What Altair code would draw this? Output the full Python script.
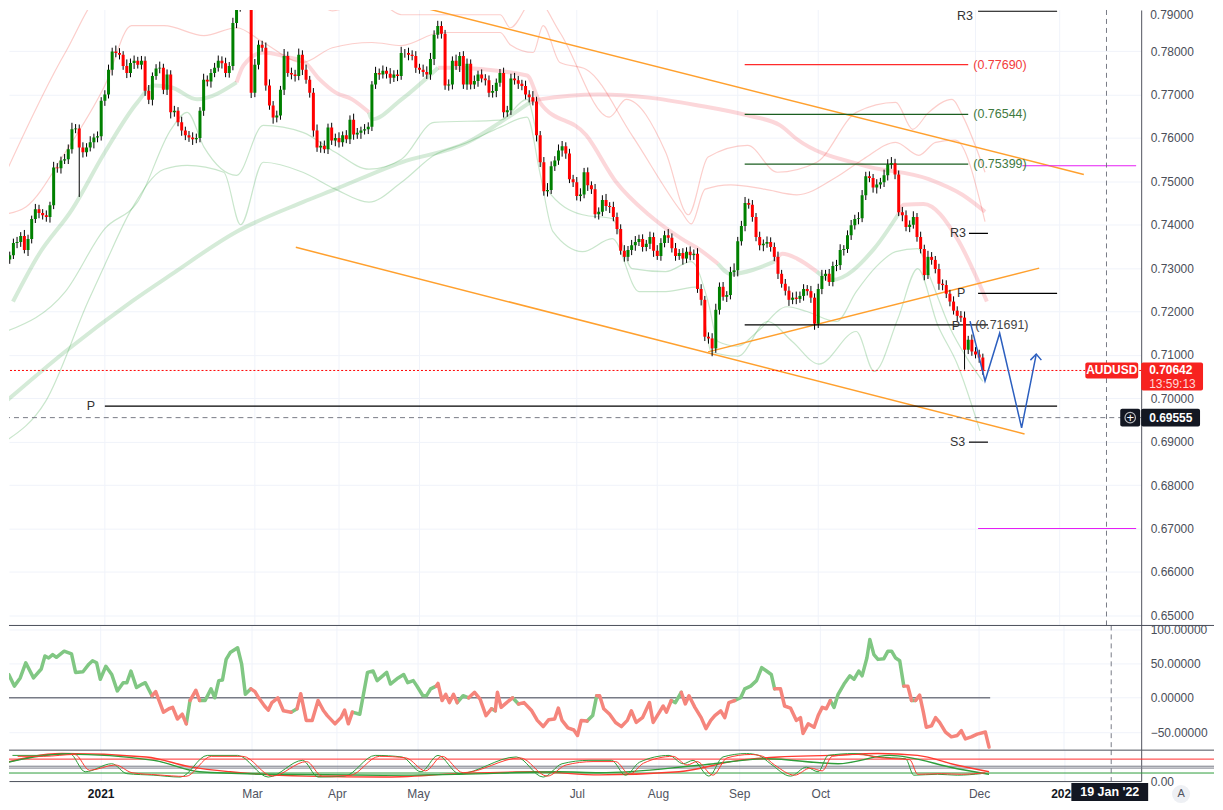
import altair as alt
import numpy as np
import pandas as pd

# ---------------- values ----------------
SYMBOL = "AUDUSD"
FIRST_BAR_DATE = "2020-11-26"
FIRST_OPEN = 0.7320

CLOSE = [
    0.7330, 0.7358, 0.7360, 0.7374, 0.7342, 0.7367, 0.7413, 0.7436, 0.7427, 0.7422,
    0.7418, 0.7445, 0.7532, 0.7530, 0.7548, 0.7551, 0.7574, 0.7620, 0.7622, 0.7578,
    0.7567, 0.7578, 0.7590, 0.7601, 0.7604, 0.7686, 0.7700, 0.7757, 0.7799, 0.7796,
    0.7792, 0.7766, 0.7750, 0.7773, 0.7778, 0.7769, 0.7778, 0.7709, 0.7688, 0.7743,
    0.7760, 0.7762, 0.7711, 0.7746, 0.7659, 0.7663, 0.7636, 0.7617, 0.7606, 0.7601,
    0.7597, 0.7600, 0.7663, 0.7734, 0.7730, 0.7750, 0.7762, 0.7778, 0.7772, 0.7750,
    0.7766, 0.7865, 0.7900, 0.7925, 0.7915, 0.7930, 0.7704, 0.7769, 0.7815, 0.7808,
    0.7721, 0.7675, 0.7647, 0.7652, 0.7711, 0.7789, 0.7750, 0.7746, 0.7743, 0.7792,
    0.7757, 0.7734, 0.7704, 0.7617, 0.7578, 0.7582, 0.7574, 0.7624, 0.7594, 0.7600,
    0.7590, 0.7606, 0.7597, 0.7642, 0.7608, 0.7612, 0.7617, 0.7620, 0.7626, 0.7723,
    0.7750, 0.7746, 0.7755, 0.7748, 0.7739, 0.7746, 0.7743, 0.7796, 0.7796, 0.7792,
    0.7789, 0.7762, 0.7757, 0.7752, 0.7746, 0.7782, 0.7838, 0.7858, 0.7840, 0.7721,
    0.7723, 0.7778, 0.7766, 0.7789, 0.7723, 0.7771, 0.7723, 0.7731, 0.7746, 0.7737,
    0.7733, 0.7704, 0.7708, 0.7727, 0.7750, 0.7659, 0.7664, 0.7737, 0.7733, 0.7725,
    0.7720, 0.7700, 0.7694, 0.7684, 0.7606, 0.7544, 0.7477, 0.7480, 0.7535, 0.7548,
    0.7571, 0.7581, 0.7564, 0.7505, 0.7498, 0.7466, 0.7470, 0.7521, 0.7491, 0.7482,
    0.7424, 0.7430, 0.7457, 0.7443, 0.7441, 0.7418, 0.7390, 0.7340, 0.7326, 0.7342,
    0.7353, 0.7360, 0.7367, 0.7349, 0.7356, 0.7372, 0.7340, 0.7328, 0.7358, 0.7376,
    0.7370, 0.7346, 0.7328, 0.7335, 0.7322, 0.7338, 0.7330, 0.7333, 0.7252, 0.7227,
    0.7142, 0.7138, 0.7115, 0.7204, 0.7257, 0.7234, 0.7238, 0.7291, 0.7295, 0.7362,
    0.7397, 0.7450, 0.7446, 0.7418, 0.7372, 0.7353, 0.7356, 0.7360, 0.7349, 0.7326,
    0.7287, 0.7264, 0.7248, 0.7227, 0.7232, 0.7229, 0.7236, 0.7252, 0.7247, 0.7232,
    0.7172, 0.7252, 0.7282, 0.7287, 0.7268, 0.7305, 0.7307, 0.7342, 0.7344, 0.7376,
    0.7399, 0.7413, 0.7415, 0.7468, 0.7512, 0.7508, 0.7486, 0.7493, 0.7498, 0.7514,
    0.7539, 0.7542, 0.7516, 0.7429, 0.7422, 0.7395, 0.7400, 0.7418, 0.7372, 0.7344,
    0.7284, 0.7326, 0.7319, 0.7298, 0.7264, 0.7261, 0.7241, 0.7223, 0.7202, 0.7190,
    0.7186, 0.7112, 0.7135, 0.7108, 0.7101, 0.7094, 0.70642,
]
UP_WICK_PIPS = [
    8, 10, 12, 9, 14, 10, 8, 12, 10, 9, 11, 8, 13, 10, 9, 12, 11, 15, 10, 9,
    12, 10, 14, 9, 11, 8, 10, 12, 9, 14, 11, 8, 15, 10, 12, 9, 11, 10, 13, 8,
    10, 14, 9, 12, 10, 11, 8, 13, 9, 10, 12, 10, 8, 14, 10, 9, 11, 12, 10, 13,
    9, 12, 20, 24, 22, 20, 12, 13, 10, 9, 12, 14, 10, 11, 9, 16, 10, 12, 11, 14,
    10, 12, 9, 11, 14, 10, 12, 9, 11, 10, 13, 9, 12, 10, 14, 11, 9, 12, 10, 8,
    14, 10, 12, 9, 13, 10, 11, 14, 9, 12, 10, 11, 9, 12, 13, 14, 10, 12, 11, 9,
    12, 10, 14, 9, 11, 12, 10, 13, 9, 12, 10, 11, 14, 10, 9, 12, 10, 11, 13, 10,
    9, 12, 10, 14, 11, 10, 12, 16, 11, 10, 14, 12, 9, 11, 10, 12, 14, 10, 11, 9,
    12, 10, 11, 14, 9, 12, 10, 11, 13, 9, 12, 14, 10, 11, 9, 12, 10, 13, 11, 10,
    14, 10, 12, 9, 11, 10, 12, 10, 13, 11, 9, 10, 12, 14, 10, 11, 9, 12, 16, 10,
    12, 14, 10, 11, 9, 12, 10, 13, 11, 10, 12, 9, 11, 10, 12, 14, 10, 11, 9, 12,
    10, 12, 14, 9, 11, 10, 12, 13, 9, 11, 12, 10, 14, 12, 10, 11, 9, 12, 10, 13,
    12, 14, 10, 9, 12, 11, 10, 13, 9, 12, 10, 14, 11, 9, 12, 10, 11, 9, 12, 10,
    11, 14, 9, 12, 10, 11, 9,
]
DOWN_WICK_PIPS = [
    10, 9, 12, 11, 8, 14, 10, 9, 12, 10, 11, 13, 9, 10, 12, 8, 11, 10, 9, 114,
    12, 10, 9, 14, 11, 10, 12, 9, 13, 10, 11, 9, 12, 10, 14, 9, 11, 12, 10, 13,
    9, 11, 10, 12, 14, 10, 9, 12, 11, 10, 13, 9, 10, 12, 11, 14, 10, 9, 12, 10,
    11, 10, 12, 9, 14, 20, 12, 10, 11, 9, 12, 10, 14, 11, 10, 12, 9, 11, 13, 10,
    12, 9, 11, 14, 10, 12, 9, 11, 10, 13, 12, 10, 9, 11, 12, 10, 14, 9, 11, 10,
    10, 12, 9, 11, 14, 10, 12, 9, 11, 13, 10, 12, 9, 11, 10, 12, 14, 9, 11, 10,
    12, 11, 9, 14, 10, 12, 11, 10, 13, 9, 12, 10, 11, 14, 9, 12, 10, 11, 10, 12,
    10, 11, 12, 9, 14, 11, 10, 12, 9, 11, 10, 14, 12, 9, 11, 10, 12, 9, 13, 11,
    9, 12, 10, 11, 14, 10, 12, 9, 11, 10, 12, 13, 9, 11, 10, 12, 14, 9, 11, 10,
    12, 10, 11, 9, 14, 10, 12, 11, 9, 13, 10, 12, 18, 10, 11, 9, 12, 10, 11, 14,
    10, 12, 9, 11, 10, 12, 14, 9, 11, 10, 12, 9, 11, 14, 10, 12, 9, 11, 10, 12,
    14, 10, 12, 11, 9, 10, 12, 11, 13, 9, 11, 10, 12, 9, 11, 10, 12, 14, 10, 11,
    12, 10, 11, 9, 14, 10, 12, 9, 11, 10, 12, 9, 11, 10, 14, 12, 10, 11, 9, 12,
    10, 46, 10, 10, 9, 12, 10,
]

MONTH_STARTS = ["2021-01-01", "2021-03-01", "2021-04-01", "2021-05-01", "2021-07-01",
                "2021-08-01", "2021-09-01", "2021-10-01", "2021-12-01", "2022-01-01"]
MONTH_LABELS = ["2021", "Mar", "Apr", "May", "Jul", "Aug", "Sep", "Oct", "Dec", "2022"]
PRICE_TICKS = [0.65, 0.66, 0.67, 0.68, 0.69, 0.70, 0.71, 0.72, 0.73, 0.74, 0.75, 0.76, 0.77, 0.78]
TOP_PRICE_TICK = 0.79

# (bar index from 1 Jan 2021, price, side g=green / r=red)
FAST_MA = [
    (-25.1, 0.7223, "g"), (-18.1, 0.7331, "g"), (-8.9, 0.7436, "g"), (0.0, 0.7567, "g"),
    (8.9, 0.7682, "g"), (13.5, 0.7721, "g"), (18.1, 0.7717, "g"), (25.2, 0.7689, "g"),
    (36.0, 0.7728, "g"), (37.9, 0.7767, "r"), (43.3, 0.7797, "r"), (50.6, 0.7785, "r"),
    (54.1, 0.7778, "r"), (58.7, 0.7735, "r"), (63.0, 0.7705, "r"), (67.6, 0.7689, "r"),
    (72.2, 0.7659, "r"), (73.0, 0.7643, "g"), (81.1, 0.7689, "g"), (91.1, 0.7762, "g"),
    (94.6, 0.7762, "r"), (115.4, 0.7744, "r"), (118.9, 0.7682, "r"), (131.6, 0.7606, "r"),
    (139.8, 0.7498, "r"), (148.7, 0.7423, "r"), (157.6, 0.7368, "r"), (162.2, 0.7345, "r"),
    (167.6, 0.7310, "r"), (171.1, 0.7287, "g"), (183.0, 0.7315, "g"), (185.2, 0.7333, "r"),
    (189.2, 0.7322, "r"), (194.6, 0.7292, "r"), (198.7, 0.7273, "g"), (210.3, 0.7345, "g"),
    (216.8, 0.7423, "g"), (218.4, 0.7446, "r"), (223.8, 0.7448, "r"), (233.0, 0.7368, "r"),
    (238.4, 0.7276, "r"), (241.1, 0.7223, "r"),
]
SLOW_MA = [
    (-27.0, 0.6993, "g"), (-10.8, 0.7108, "g"), (7.3, 0.7223, "g"), (18.1, 0.7285, "g"),
    (36.0, 0.7384, "g"), (54.1, 0.7452, "g"), (63.0, 0.7482, "g"), (81.1, 0.7544, "g"),
    (99.2, 0.7590, "g"), (108.1, 0.7636, "g"), (116.2, 0.7682, "g"), (118.9, 0.7689, "r"),
    (135.2, 0.7700, "r"), (148.7, 0.7693, "r"), (162.2, 0.7675, "r"), (175.7, 0.7652, "r"),
    (184.6, 0.7629, "r"), (189.2, 0.7597, "r"), (207.3, 0.7537, "r"), (225.2, 0.7505, "r"),
    (234.4, 0.7469, "r"), (240.6, 0.7430, "r"),
]
BAND_UPPER_OUTER = [
    (-27, 0.7521), (-10.8, 0.7797), (0.0, 0.7934), (54.1, 0.7934), (62.2, 0.7893), (73.0, 0.7923),
    (81.1, 0.7884), (108.1, 0.7884), (110.8, 0.7854), (117.6, 0.7923), (124.4, 0.7843),
    (137.9, 0.7648), (142.5, 0.7689), (153.3, 0.7567), (159.5, 0.7423), (164.9, 0.7556),
    (175.7, 0.7583), (183.8, 0.7521), (194.6, 0.7544), (205.4, 0.7659), (216.2, 0.7682),
    (220.8, 0.7620), (225.2, 0.7659), (231.6, 0.7689), (234.4, 0.7652), (240.6, 0.7521),
]
BAND_UPPER_INNER = [
    (-27, 0.7425), (-21.6, 0.7441), (-10.8, 0.7567), (0.0, 0.7721), (7.3, 0.7859), (16.2, 0.7859),
    (27.1, 0.7836), (36.0, 0.7854), (43.3, 0.7820), (54.1, 0.7774), (62.2, 0.7808), (73.0, 0.7820),
    (81.1, 0.7813), (91.9, 0.7843), (108.1, 0.7843), (110.8, 0.7815), (117.1, 0.7797),
    (119.8, 0.7859), (124.4, 0.7774), (131.6, 0.7758), (144.1, 0.7606), (157.6, 0.7430),
    (160.3, 0.7402), (164.1, 0.7482), (171.1, 0.7492), (180.3, 0.7482), (189.2, 0.7469),
    (200.0, 0.7510), (207.3, 0.7551), (216.2, 0.7590), (222.5, 0.7560), (227.1, 0.7590),
    (232.5, 0.7595), (240.6, 0.7407),
]
BAND_LOWER_INNER = [
    (-27, 0.7154), (-10.8, 0.7246), (0.0, 0.7391), (8.9, 0.7452), (18.1, 0.7620), (22.5, 0.7659),
    (27.1, 0.7579), (36.0, 0.7514), (43.3, 0.7629), (54.1, 0.7613), (63.0, 0.7567), (72.2, 0.7528),
    (81.1, 0.7551), (90.0, 0.7636), (108.1, 0.7641), (115.4, 0.7689), (118.1, 0.7606),
    (120.8, 0.7482), (130.6, 0.7423), (138.7, 0.7414), (144.1, 0.7299), (153.3, 0.7292),
    (160.3, 0.7315), (164.9, 0.7223), (167.6, 0.7131), (173.0, 0.7120), (178.4, 0.7154),
    (186.5, 0.7211), (191.9, 0.7200), (200.0, 0.7177), (205.4, 0.7246), (210.8, 0.7303),
    (216.2, 0.7338), (222.2, 0.7345), (225.7, 0.7276), (231.1, 0.7161), (235.7, 0.7092),
    (240.0, 0.7039),
]
BAND_LOWER_OUTER = [
    (-27, 0.6902), (-16.2, 0.6993), (-4.6, 0.7223), (0.0, 0.7308), (7.3, 0.7436), (16.2, 0.7528),
    (22.5, 0.7537), (32.5, 0.7521), (37.1, 0.7400), (43.3, 0.7544), (54.1, 0.7521), (63.0, 0.7482),
    (72.2, 0.7452), (81.1, 0.7498), (90.0, 0.7560), (99.2, 0.7590), (108.1, 0.7625),
    (115.4, 0.7648), (118.9, 0.7521), (122.5, 0.7384), (130.6, 0.7338), (138.7, 0.7368),
    (146.0, 0.7246), (153.3, 0.7246), (162.2, 0.7257), (165.7, 0.7108), (173.0, 0.7097),
    (181.1, 0.7177), (187.9, 0.7131), (195.2, 0.7079), (205.4, 0.7154), (210.3, 0.7062),
    (216.8, 0.7184), (222.2, 0.7299), (227.6, 0.7170), (233.0, 0.7079), (239.2, 0.6925),
]
# orange channel lines: (start idx, start price, end idx, end price)
TRENDLINES = [
    (81.1, 0.7913, 267.6, 0.7516),
    (52.2, 0.7348, 251.4, 0.6918),
    (164.9, 0.7107, 255.4, 0.7300),
]
PROJECTION = [(236.5, 0.7178), (240.6, 0.7040), (244.6, 0.7150), (250.6, 0.6932), (254.6, 0.7102)]
ARROW_HEAD = [(253.0, 0.7088), (254.6, 0.7102), (256.0, 0.7088)]
# horizontal levels: (price, from idx, to idx, kind)
LEVELS = [
    (0.7892, 238.7, 260.3, "pivot"),
    (0.77690, 174.9, 236.0, "fib_red"),
    (0.76544, 174.9, 236.0, "fib_green"),
    (0.75399, 174.9, 236.0, "fib_green"),
    (0.7536, 250.8, 281.9, "magenta"),
    (0.6700, 238.7, 281.9, "magenta"),
    (0.7380, 236.2, 241.4, "pivot"),
    (0.7242, 238.7, 260.3, "pivot"),
    (0.71691, 174.9, 241.4, "pivot"),
    (0.6982, 0.0, 260.3, "pivot"),
    (0.6899, 236.2, 241.4, "pivot"),
]
# (text, idx, price, kind)
LEVEL_LABELS = [
    ("(0.77690)", 237.4, 0.77690, "fib_red"),
    ("(0.76544)", 237.4, 0.76544, "fib_green"),
    ("(0.75399)", 237.4, 0.75399, "fib_green"),
    ("R3", 235.4, 0.7380, "pivot"),
    ("P", 235.2, 0.7242, "pivot"),
    ("P", 233.8, 0.7166, "pivot"),
    ("(0.71691)", 237.9, 0.71691, "fib_dark"),
    ("P", -2.7, 0.6982, "pivot"),
    ("S3", 235.2, 0.6899, "pivot"),
]
TOP_LABEL = ("R3", 237.3)
LAST_PRICE = 0.70642
COUNTDOWN = "13:59:13"
CROSS_PRICE = 0.69555
CROSS_IDX = 273.8
CROSS_DATE = "19 Jan '22"

# CCI-style oscillator: (idx, value, side)
CCI = [
    (-27.0, 44, "g"), (-26.0, 22, "g"), (-24.9, 34, "g"), (-23.4, 17, "g"), (-21.8, 29, "g"),
    (-20.3, 51, "g"), (-18.2, 29, "g"), (-16.1, 42, "g"), (-15.1, 61, "g"), (-14.1, 58, "g"),
    (-13.0, 63, "g"), (-12.0, 59, "g"), (-9.9, 68, "g"), (-7.9, 64, "g"), (-6.8, 37, "g"),
    (-4.8, 38, "g"), (-3.2, 49, "g"), (-2.2, 54, "g"), (-1.1, 51, "g"), (-0.1, 27, "g"),
    (1.4, 46, "g"), (3.0, 34, "g"), (4.5, 10, "g"), (6.1, 22, "g"), (7.1, 22, "g"),
    (8.2, 39, "g"), (9.7, 15, "g"), (11.3, 20, "g"), (12.1, 22, "g"), (13.9, 3, "g"),
    (14.9, 9, "r"), (17.0, -21, "r"), (18.5, -16, "r"), (19.5, -14, "r"), (20.8, -31, "r"),
    (22.1, -24, "r"), (23.2, -38, "r"), (24.2, -4, "g"), (25.8, 11, "r"), (26.8, -4, "r"),
    (28.3, -4, "g"), (29.9, 13, "g"), (30.9, 0, "g"), (32.0, 25, "g"), (33.0, 26, "g"),
    (34.0, 56, "g"), (35.1, 66, "g"), (37.1, 73, "g"), (38.2, 49, "g"), (39.2, 5, "g"),
    (40.7, 13, "g"), (41.8, 9, "r"), (42.8, 0, "r"), (44.4, -12, "r"), (45.4, -18, "r"),
    (46.4, -7, "r"), (48.0, 0, "r"), (49.5, -19, "r"), (51.6, -21, "r"), (53.2, -16, "g"),
    (54.2, 6, "r"), (55.7, -33, "r"), (57.3, -33, "r"), (58.9, -4, "r"), (60.4, -19, "r"),
    (61.4, -26, "r"), (63.5, -38, "r"), (65.1, -29, "r"), (66.1, -18, "r"), (67.1, -38, "r"),
    (68.2, -21, "r"), (70.2, -24, "g"), (72.3, 37, "g"), (73.8, 39, "g"), (74.9, 25, "g"),
    (76.4, 32, "g"), (77.5, 37, "g"), (78.5, 20, "g"), (80.6, 29, "g"), (82.1, 34, "g"),
    (83.2, 22, "g"), (84.7, 25, "g"), (85.7, 17, "g"), (87.3, 3, "g"), (88.3, 3, "g"),
    (89.4, 13, "g"), (90.9, 17, "g"), (91.4, 21, "r"), (92.5, -4, "r"), (93.5, 5, "r"),
    (94.5, -7, "r"), (95.6, 5, "r"), (96.6, -7, "r"), (98.2, 3, "g"), (99.7, 0, "g"),
    (101.3, 8, "r"), (102.8, -2, "r"), (104.4, -26, "r"), (105.9, -16, "r"), (106.9, -19, "g"),
    (107.5, 8, "r"), (108.5, -14, "r"), (110.0, -7, "r"), (111.6, 0, "r"), (113.2, -9, "g"),
    (114.7, -7, "r"), (116.8, -19, "r"), (118.3, -33, "r"), (119.9, -42, "r"), (121.4, -32, "r"),
    (123.0, -31, "r"), (124.0, -15, "r"), (125.0, -33, "r"), (126.6, -44, "r"), (128.2, -47, "r"),
    (129.2, -55, "r"), (130.2, -33, "r"), (131.8, -34, "r"), (133.3, -26, "g"), (134.4, 3, "g"),
    (135.2, 3, "r"), (136.3, -16, "r"), (137.9, -24, "r"), (139.5, -36, "r"), (141.1, -42, "r"),
    (142.7, -33, "r"), (143.8, -19, "r"), (145.1, -36, "r"), (146.8, -29, "r"), (148.7, -7, "r"),
    (149.7, -36, "r"), (151.4, -21, "r"), (152.4, -12, "r"), (153.3, -21, "r"), (154.6, -4, "r"),
    (155.7, -7, "g"), (157.3, 8, "g"), (158.4, -9, "r"), (159.4, 3, "r"), (161.0, -14, "r"),
    (162.7, -29, "r"), (164.0, -45, "r"), (165.3, -33, "r"), (166.4, -26, "r"), (168.0, -19, "r"),
    (169.1, -29, "r"), (170.2, -7, "r"), (171.8, -4, "r"), (173.4, 0, "g"), (174.5, 13, "g"),
    (176.1, 17, "g"), (177.7, 25, "g"), (179.1, 44, "g"), (180.4, 39, "g"), (181.7, 34, "g"),
    (182.6, 13, "g"), (184.2, 13, "r"), (185.3, -12, "r"), (186.9, -15, "r"), (188.5, -33, "r"),
    (189.6, -29, "r"), (190.3, -52, "r"), (191.7, -38, "r"), (193.3, -43, "r"), (194.4, -26, "r"),
    (195.5, -14, "r"), (196.6, -16, "r"), (197.7, -4, "r"), (198.7, -14, "g"), (199.8, 5, "g"),
    (201.4, 20, "g"), (203.0, 32, "g"), (204.1, 27, "g"), (205.4, 39, "g"), (206.3, 32, "g"),
    (207.6, 58, "g"), (208.4, 85, "g"), (209.5, 63, "g"), (210.6, 56, "g"), (212.2, 57, "g"),
    (213.3, 68, "g"), (214.3, 68, "g"), (215.4, 58, "g"), (216.5, 54, "g"), (217.6, 17, "g"),
    (218.7, 17, "r"), (219.7, -4, "r"), (220.8, -4, "g"), (221.9, 4, "r"), (222.9, -21, "r"),
    (223.7, -43, "r"), (225.1, -41, "r"), (226.2, -29, "r"), (227.3, -36, "r"), (228.9, -50, "r"),
    (230.5, -57, "r"), (232.1, -55, "r"), (233.2, -48, "r"), (234.3, -60, "r"), (235.9, -57, "r"),
    (237.5, -53, "r"), (239.7, -50, "r"), (240.7, -72, "r"),
]
CCI_TICKS = [100, 50, 0, -50]
CCI_ZERO_END = 241.0

# lower pane
LOWER_LEVELS = [71, 48, 42, 26]
LOWER_LEVEL_KIND = ["red", "gray", "gray", "green"]
LOWER_FAST_G = [
    (-23.9, 83), (-16.7, 83), (-8.4, 89), (-4.2, 30), (3.0, 56), (7.1, 24), (14.4, 19), (21.6, 13),
    (28.9, 83), (37.1, 83), (45.4, 13), (54.7, 67), (58.9, 13), (66.1, 16), (74.4, 83), (81.6, 78),
    (86.8, 30), (91.4, 83), (97.1, 24), (112.6, 78), (119.9, 13), (125.0, 56), (132.3, 67),
    (138.4, 67), (142.2, 19), (146.0, 61), (154.0, 83), (157.8, 56), (160.5, 67), (164.8, 16),
    (168.6, 78), (175.0, 89), (178.3, 83), (181.5, 56), (186.9, 16), (191.2, 45), (194.4, 30),
    (197.1, 83), (204.1, 89), (210.6, 78), (218.1, 72), (220.3, 19), (226.7, 22), (232.1, 19),
    (238.6, 24),
]
LOWER_FAST_R = [
    (-22.5, 80), (-15.5, 80), (-7.0, 86), (-3.0, 35), (4.0, 52), (8.5, 27), (15.5, 20), (23.0, 15),
    (30.0, 80), (38.5, 80), (46.5, 16), (55.8, 63), (60.0, 16), (67.5, 18), (75.5, 80), (82.7, 75),
    (88.0, 33), (92.5, 80), (98.2, 27), (113.7, 75), (121.0, 16), (126.1, 52), (133.4, 63),
    (139.5, 63), (143.3, 22), (147.1, 58), (155.1, 80), (158.9, 52), (161.6, 63), (165.9, 19),
    (169.7, 75), (176.1, 86), (179.4, 80), (182.6, 52), (188.0, 19), (192.3, 42), (195.5, 33),
    (198.2, 80), (205.2, 86), (211.7, 75), (219.2, 69), (221.4, 22), (227.8, 24), (233.2, 22),
    (239.7, 27),
]
LOWER_SLOW_R = [
    (-27, 56), (-10.5, 89), (12.3, 78), (24.7, 45), (35.1, 30), (55.7, 16), (76.4, 13), (97.1, 24),
    (117.8, 30), (135.2, 20), (156.7, 30), (172.9, 67), (183.7, 78), (197.7, 83), (210.6, 89),
    (221.3, 83), (232.1, 51), (240.7, 30),
]
LOWER_SLOW_G = [
    (-27, 56), (-9.4, 87), (14.4, 67), (26.8, 30), (45.4, 22), (76.4, 19), (97.1, 22), (124.1, 30),
    (135.2, 27), (162.1, 51), (180.4, 72), (199.8, 56), (213.8, 83), (232.1, 40), (240.7, 22),
]

# ---------------- layout & style ----------------
FONT = "Liberation Sans"
GRID = "#f0f3fa"
AXC = "#50535e"
LBL = "#4a4e59"
SEP = "#4a4e59"
UP_C, DN_C = "#008000", "#ff0000"
W = 1135
H_PRICE, H_OSC, H_LOW = 617, 125, 31
XDOM = [-24.84, 281.92]
PDOM = [0.647655, 0.789494]
ODOM = [-76.4, 105.5]
LDOM = [0, 100]
PX_PER_PRICE = H_PRICE / (PDOM[1] - PDOM[0])
KIND_COLOR = {"pivot": "#000000", "fib_red": "#ff2b2b", "fib_green": "#1b5e20",
              "magenta": "#e61ef5", "fib_dark": "#3a3a3a"}
LABEL_COLOR = {"pivot": "#333333", "fib_red": "#f23b3b", "fib_green": "#3f7a3f", "fib_dark": "#444444"}

bdays = pd.bdate_range(FIRST_BAR_DATE, "2022-03-31")
jan1 = int(np.searchsorted(bdays, pd.Timestamp("2021-01-01")))
tick_idx = [int(np.searchsorted(bdays, pd.Timestamp(d))) - jan1 for d in MONTH_STARTS]
label_expr = "".join(f"datum.value == {t} ? '{lab}' : " for t, lab in zip(tick_idx, MONTH_LABELS)) + "''"
year_test = " || ".join(f"datum.value == {t}" for t, lab in zip(tick_idx, MONTH_LABELS) if lab.isdigit())
ticks_df = pd.DataFrame({"i": tick_idx})

n = len(CLOSE)
opens = [FIRST_OPEN] + CLOSE[:-1]
candles = pd.DataFrame({"i": np.arange(n) - jan1, "o": opens, "c": CLOSE})
candles["h"] = np.maximum(candles.o, candles.c) + np.array(UP_WICK_PIPS) / 10000
candles["l"] = np.minimum(candles.o, candles.c) - np.array(DOWN_WICK_PIPS) / 10000
candles["up"] = candles.c >= candles.o

XS = alt.Scale(domain=XDOM, nice=False, zero=False)
XL = alt.Axis(values=tick_idx, labelExpr=label_expr, grid=True, gridColor=GRID, ticks=False,
              domain=True, domainColor=SEP, labelPadding=7, labelFontSize=12, title=None,
              labelOverlap=False, labelFont=FONT,
              labelFontWeight={"expr": f"({year_test}) ? 'bold' : 'normal'"},
              labelColor={"expr": f"({year_test}) ? '#131722' : '#50535e'"})


def X(f, axis=None):
    return alt.X(f, type="quantitative", scale=XS, axis=axis)


PS = alt.Scale(domain=PDOM, nice=False, zero=False)
PA = alt.Axis(orient="right", values=PRICE_TICKS, format=".5f", grid=True, gridColor=GRID, ticks=False,
              domain=True, domainColor=AXC, labelPadding=9, labelOverlap=False, title=None)


def PY(f):
    return alt.Y(f, type="quantitative", scale=PS, axis=PA)


OS = alt.Scale(domain=ODOM, nice=False, zero=False)
OA = alt.Axis(orient="right", values=CCI_TICKS, format=".5f", grid=True, gridColor=GRID, ticks=False,
              domain=True, domainColor=AXC, labelPadding=9, labelOverlap=False, title=None)


def OY(f):
    return alt.Y(f, type="quantitative", scale=OS, axis=OA)


LS = alt.Scale(domain=LDOM, nice=False, zero=False)
LA = alt.Axis(orient="right", values=[0], format=".2f", grid=False, ticks=False, domain=True,
              domainColor=AXC, labelPadding=9, title=None)


def LY(f):
    return alt.Y(f, type="quantitative", scale=LS, axis=LA)


def runs(points):
    rows, run = [], 0
    for k, (i, v, s) in enumerate(points):
        if k > 0 and s != points[k - 1][2]:
            run += 1
            rows.append((points[k - 1][0], points[k - 1][1], s, run))
        rows.append((i, v, s, run))
    return pd.DataFrame(rows, columns=["i", "v", "s", "run"])


one = pd.DataFrame({"a": [0]})


def vgrid():
    return alt.Chart(ticks_df).mark_rule(color=GRID, strokeWidth=1).encode(x=X("i"))


# ---------------- price pane ----------------
P = [vgrid()]
for pts, col in [(BAND_UPPER_OUTER, "#f44336"), (BAND_UPPER_INNER, "#f44336"),
                 (BAND_LOWER_INNER, "#2e9d3a"), (BAND_LOWER_OUTER, "#2e9d3a")]:
    P.append(alt.Chart(pd.DataFrame(pts, columns=["i", "p"])).mark_line(
        color=col, strokeWidth=1.2, opacity=0.26, interpolate="monotone", clip=True).encode(
        x=X("i"), y=PY("p")))
for pts in (SLOW_MA, FAST_MA):
    df = runs(pts)
    for side, col in (("g", "#2e9d3a"), ("r", "#f23645")):
        P.append(alt.Chart(df[df.s == side]).mark_line(
            color=col, strokeWidth=4, opacity=0.2, interpolate="monotone", clip=True).encode(
            x=X("i"), y=PY("v"), detail="run:N"))

tl = pd.DataFrame(TRENDLINES, columns=["i1", "p1", "i2", "p2"])
P.append(alt.Chart(tl).mark_rule(color="#ffa02e", strokeWidth=1.5, clip=True).encode(
    x=X("i1"), x2=alt.X2("i2"), y=PY("p1"), y2=alt.Y2("p2")))

lv = pd.DataFrame(LEVELS, columns=["p", "i1", "i2", "kind"])
for kind, col in KIND_COLOR.items():
    d = lv[lv.kind == kind]
    if len(d):
        P.append(alt.Chart(d).mark_rule(color=col, strokeWidth=1.2, clip=True).encode(
            x=X("i1"), x2=alt.X2("i2"), y=PY("p")))

P.append(alt.Chart(candles).mark_rule(color="#000000", strokeWidth=1, clip=True).encode(
    x=X("i"), y=PY("l"), y2=alt.Y2("h")))
P.append(alt.Chart(candles[candles.up]).mark_bar(size=3, color=UP_C, orient="vertical", clip=True).encode(
    x=X("i"), y=PY("o"), y2=alt.Y2("c")))
P.append(alt.Chart(candles[~candles.up]).mark_bar(size=3, color=DN_C, orient="vertical", clip=True).encode(
    x=X("i"), y=PY("o"), y2=alt.Y2("c")))

P.append(alt.Chart(pd.DataFrame({"p": [LAST_PRICE]})).mark_rule(
    color="#ff0000", strokeDash=[2, 2], strokeWidth=1).encode(y=PY("p")))
P.append(alt.Chart(pd.DataFrame({"p": [CROSS_PRICE]})).mark_rule(
    color="#787b86", strokeDash=[5, 4], strokeWidth=1).encode(y=PY("p")))
P.append(alt.Chart(pd.DataFrame({"i": [CROSS_IDX]})).mark_rule(
    color="#787b86", strokeDash=[5, 4], strokeWidth=1).encode(x=X("i")))

proj = pd.DataFrame(PROJECTION, columns=["i", "p"]).reset_index()
P.append(alt.Chart(proj).mark_line(color="#2c5fbf", strokeWidth=1.5, clip=True).encode(
    x=X("i"), y=PY("p"), order="index:Q"))
ah = pd.DataFrame(ARROW_HEAD, columns=["i", "p"]).reset_index()
P.append(alt.Chart(ah).mark_line(color="#2c5fbf", strokeWidth=1.5, clip=True).encode(
    x=X("i"), y=PY("p"), order="index:Q"))

ll = pd.DataFrame(LEVEL_LABELS, columns=["t", "i", "p", "kind"])
for kind, col in LABEL_COLOR.items():
    d = ll[ll.kind == kind]
    if len(d):
        P.append(alt.Chart(d).mark_text(
            align="right" if kind == "pivot" else "left", baseline="middle",
            font=FONT, fontSize=12.5, color=col, clip=True).encode(
            x=X("i"), y=PY("p"), text="t:N"))
# texts that sit on the top edge of the pane: keep them just inside
P.append(alt.Chart(pd.DataFrame({"t": [TOP_LABEL[0]], "i": [TOP_LABEL[1]], "p": [PDOM[1]]})).mark_text(
    align="right", baseline="top", font=FONT, fontSize=12.5, color=LABEL_COLOR["pivot"]).encode(
    x=X("i"), y=PY("p"), text="t:N"))
P.append(alt.Chart(pd.DataFrame({"t": [f"{TOP_PRICE_TICK:.5f}"], "p": [PDOM[1]]})).mark_text(
    align="left", baseline="top", font=FONT, fontSize=12, color=LBL).encode(
    x=alt.value(W + 9), y=PY("p"), text="t:N"))


def pbox(x1, x2, p_center, up_px, down_px, color, radius=2):
    d = pd.DataFrame({"p1": [p_center + up_px / PX_PER_PRICE], "p2": [p_center - down_px / PX_PER_PRICE]})
    return alt.Chart(d).mark_rect(color=color, cornerRadius=radius).encode(
        x=alt.value(x1), x2=alt.value(x2), y=PY("p1"), y2=alt.Y2("p2"))


def ptext(x, p_center, dy_px, text, color, weight="bold", align="left", size=12):
    d = pd.DataFrame({"p": [p_center - dy_px / PX_PER_PRICE], "t": [text]})
    return alt.Chart(d).mark_text(align=align, baseline="middle", font=FONT, fontSize=size,
                                  fontWeight=weight, color=color).encode(
        x=alt.value(x), y=PY("p"), text="t:N")


P += [
    pbox(1079, 1132, LAST_PRICE, 8, 8, "#f7221f"),
    pbox(1135, 1197, LAST_PRICE, 8, 20, "#f7221f"),
    ptext(1105.5, LAST_PRICE, 0, SYMBOL, "#ffffff", align="center"),
    ptext(1143, LAST_PRICE, 0, f"{LAST_PRICE:.5f}", "#ffffff"),
    ptext(1143, LAST_PRICE, 14, COUNTDOWN, "#ffd9d9", weight="normal"),
    pbox(1114, 1134, CROSS_PRICE, 9, 9, "#131722"),
    pbox(1135, 1194, CROSS_PRICE, 9, 9, "#131722"),
    ptext(1143, CROSS_PRICE, 0, f"{CROSS_PRICE:.5f}", "#ffffff"),
    alt.Chart(pd.DataFrame({"p": [CROSS_PRICE]})).mark_point(
        shape="circle", size=110, filled=False, stroke="#ffffff", strokeWidth=1.2).encode(
        x=alt.value(1124), y=PY("p")),
    ptext(1124, CROSS_PRICE, 0, "+", "#ffffff", weight="normal", align="center", size=13),
]
price = alt.layer(*P).properties(width=W, height=H_PRICE)

# ---------------- oscillator pane ----------------
O = [vgrid()]
O.append(alt.Chart(pd.DataFrame({"i1": [XDOM[0]], "i2": [CCI_ZERO_END], "v": [0]})).mark_rule(
    color="#787b86", strokeWidth=1.5).encode(x=X("i1"), x2=alt.X2("i2"), y=OY("v")))
cdf = runs(CCI)
for side, col in (("g", "#80c783"), ("r", "#f5857c")):
    O.append(alt.Chart(cdf[cdf.s == side]).mark_line(
        color=col, strokeWidth=3.5, strokeCap="round", strokeJoin="round", clip=True).encode(
        x=X("i"), y=OY("v"), detail="run:N"))
O.append(alt.Chart(pd.DataFrame({"i": [CROSS_IDX]})).mark_rule(
    color="#787b86", strokeDash=[5, 4], strokeWidth=1).encode(x=X("i")))
O.append(alt.Chart(one).mark_rule(color=SEP, strokeWidth=1).encode(
    x=alt.value(0), x2=alt.value(1208), y=alt.value(0)))
osc = alt.layer(*O).properties(width=W, height=H_OSC)

# ---------------- lower pane ----------------
Lw = []
lk_col = {"red": "#ff2b2b", "gray": "#787b86", "green": "#2e9d3a"}
for v, k in zip(LOWER_LEVELS, LOWER_LEVEL_KIND):
    Lw.append(alt.Chart(pd.DataFrame({"v": [v]})).mark_rule(color=lk_col[k], strokeWidth=1).encode(
        x=alt.value(0), x2=alt.value(1208), y=LY("v")))
for pts, col, wdt in [(LOWER_SLOW_R, "#ff3b30", 1.4), (LOWER_SLOW_G, "#2e9d3a", 1.4),
                      (LOWER_FAST_G, "#2e9d3a", 1.0), (LOWER_FAST_R, "#ff3b30", 1.0)]:
    Lw.append(alt.Chart(pd.DataFrame(pts, columns=["i", "v"])).mark_line(
        color=col, strokeWidth=wdt, interpolate="monotone", clip=True).encode(x=X("i", XL), y=LY("v")))
Lw.append(alt.Chart(pd.DataFrame({"i": [CROSS_IDX]})).mark_rule(
    color="#787b86", strokeDash=[5, 4], strokeWidth=1).encode(x=X("i", XL)))
Lw.append(alt.Chart(one).mark_rule(color=SEP, strokeWidth=1).encode(
    x=alt.value(0), x2=alt.value(1208), y=alt.value(0)))
Lw.append(alt.Chart(one).mark_rect(color="#131722").encode(
    x=alt.value(1065), x2=alt.value(1142), y=alt.value(33), y2=alt.value(51)))
Lw.append(alt.Chart(pd.DataFrame({"t": [CROSS_DATE]})).mark_text(
    font=FONT, fontSize=12.5, color="#ffffff", fontWeight="bold", baseline="middle").encode(
    x=alt.value(1103.5), y=alt.value(42), text="t:N"))
Lw.append(alt.Chart(one).mark_point(shape="circle", size=330, filled=True, color="#eef0f4", opacity=1).encode(
    x=alt.value(1175), y=alt.value(44)))
Lw.append(alt.Chart(pd.DataFrame({"t": ["A"]})).mark_text(
    font=FONT, fontSize=11, color="#50535e", baseline="middle").encode(
    x=alt.value(1175), y=alt.value(44), text="t:N"))
lower = alt.layer(*Lw).properties(width=W, height=H_LOW)

chart = alt.vconcat(price, osc, lower, spacing=0, bounds="flush").properties(padding=0).configure_view(
    stroke=None).configure_axis(labelFont=FONT, labelFontSize=12, labelColor=LBL)

chart.save("out.html", embed_options={"renderer": "svg", "actions": False})
